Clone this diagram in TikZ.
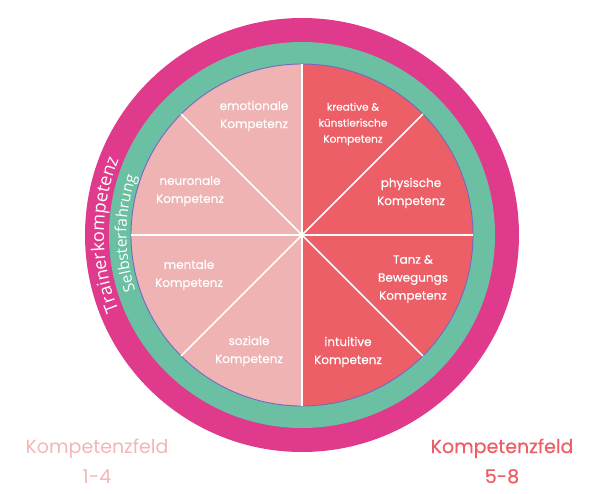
\documentclass[tikz,border=0pt]{standalone}
\usepackage{fontspec}
\setmainfont{Poppins}
\newfontfamily\popmed[FakeBold=0.5]{Poppins}
\newfontfamily\ringfont{Open Sans}
\usetikzlibrary{decorations.text}
\definecolor{magring}{HTML}{E03A8C}
\definecolor{greenring}{HTML}{6BBFA3}
\definecolor{lightpie}{HTML}{EFB3B3}
\definecolor{redpie}{HTML}{EC5F66}
\definecolor{rimline}{HTML}{7468C2}
\definecolor{leftlabel}{HTML}{F2B6B6}
\tikzset{
  label/.style={text=white, align=center, font=\popmed\fontsize{12}{18}\selectfont, inner sep=0pt},
  bottomlabel/.style={align=center, inner sep=0pt},
  divider/.style={white, line width=1.5pt},
}
\begin{document}
\begin{tikzpicture}[x=1pt,y=1pt]
\useasboundingbox (-302,-258) rectangle (292,235);
\coordinate (c) at (0,0);
% rings
\fill[magring] (c) circle[radius=217];
\fill[greenring] (c) circle[radius=193];
% pie halves
\fill[lightpie] (0,171) arc[start angle=90, end angle=270, radius=171] -- cycle;
\fill[redpie] (0,-171) arc[start angle=-90, end angle=90, radius=171] -- cycle;
\draw[rimline, line width=0.9pt] (c) circle[radius=171];
% dividers
\foreach \a in {0,45,...,315} {
  \coordinate (r\a) at (\a:171);
  \draw[divider] (c) -- (r\a);
}
% labels
\node[label] (emo) at (-48,119) {emotionale\\Kompetenz};
\node[label, font=\popmed\fontsize{10.5}{16}\selectfont] (kre) at (51,111) {kreative \&\\künstlerische\\Kompetenz};
\node[label] (neu) at (-112,44) {neuronale\\Kompetenz};
\node[label] (phy) at (109,42) {physische\\Kompetenz};
\node[label] (men) at (-113,-40) {mentale\\Kompetenz};
\node[label] (tan) at (111,-44) {Tanz \&\\Bewegungs\\Kompetenz};
\node[label] (soz) at (-53,-116) {soziale\\Kompetenz};
\node[label] (int) at (46,-117) {intuitive\\Kompetenz};
% ring texts
\path[decorate, decoration={text along path, text align=center, text color=white,
  text={|\ringfont\fontsize{18}{18}\selectfont|Trainerkompetenz}}]
  (206:198) arc[start angle=206, end angle=154, radius=198];
\path[decorate, decoration={text along path, text align=center, text color=white,
  text={|\ringfont\fontsize{15.5}{15.5}\selectfont|Selbsterfahrung}}]
  (202:175.5) arc[start angle=202, end angle=157, radius=175.5];
% bottom labels
\node[bottomlabel, text=leftlabel, font=\fontsize{19}{30}\selectfont] (kf1) at (-205,-226) {Kompetenzfeld\\1-4};
\node[bottomlabel, text=redpie, font=\popmed\fontsize{19}{30}\selectfont] (kf2) at (200,-226) {Kompetenzfeld\\5-8};
\end{tikzpicture}
\end{document}
